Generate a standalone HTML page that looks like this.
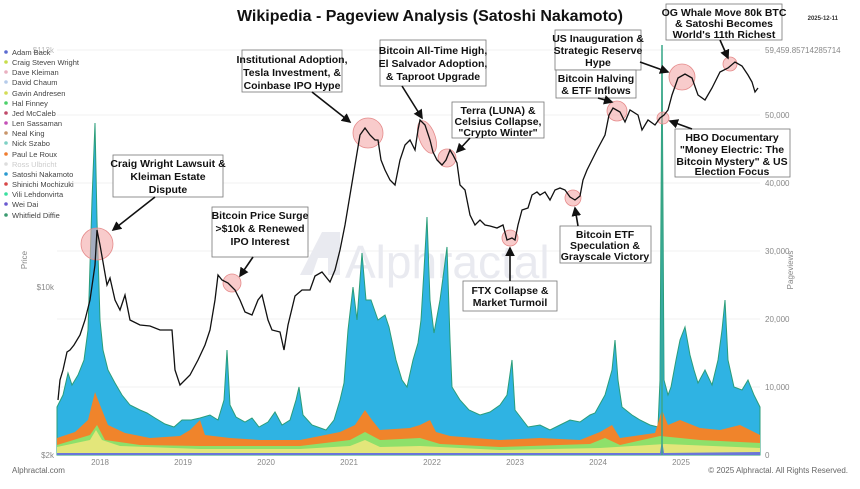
<!DOCTYPE html>
<html><head><meta charset="utf-8"><style>
body{margin:0;background:#fff;font-family:"Liberation Sans",sans-serif}
svg text{font-family:"Liberation Sans",sans-serif}
.b{font-weight:bold;font-size:10.5px;fill:#111;text-anchor:middle}
</style></head><body>
<svg width="860" height="484" viewBox="0 0 860 484" xmlns="http://www.w3.org/2000/svg">
<rect width="860" height="484" fill="#fff"/>
<text x="430" y="21" font-size="16" font-weight="bold" text-anchor="middle" fill="#111">Wikipedia - Pageview Analysis (Satoshi Nakamoto)</text>
<text x="838" y="20" font-size="6" font-weight="bold" text-anchor="end" fill="#333">2025-12-11</text>
<g stroke="#f0f0f0" stroke-width="1">
<line x1="57" y1="50" x2="760" y2="50"/><line x1="57" y1="115" x2="760" y2="115"/><line x1="57" y1="183" x2="760" y2="183"/><line x1="57" y1="251" x2="760" y2="251"/><line x1="57" y1="319" x2="760" y2="319"/><line x1="57" y1="387" x2="760" y2="387"/>
</g>
<text x="345" y="278" font-size="46" fill="#e9eaf0">Alphractal</text>
<path d="M300 275 L322 232 L340 232 L340 275 L328 275 L328 258 L318 258 L312 275 Z" fill="#e9eaf0"/>
<!-- blue area -->
<path fill="#2fb3e3" stroke="#2a9d7a" stroke-width="1" d="M57 455 L57 407 L63 395 L68 373 L72 385 L78 375 L84 360 L88 330 L92 200 L95 123 L97 220 L100 320 L103 350 L108 370 L115 383 L122 395 L130 405 L140 410 L147 413 L155 418 L165 424 L174 427 L182 420 L191 420 L200 418 L210 415 L218 420 L224 400 L227 350 L230 405 L236 417 L245 422 L252 418 L259 427 L268 422 L275 412 L282 425 L290 420 L296 400 L299 387 L303 415 L312 425 L326 430 L334 420 L340 400 L344 383 L348 330 L353 287 L357 320 L362 253 L366 300 L371 300 L378 320 L385 315 L389 327 L396 360 L402 380 L407 387 L413 360 L418 343 L421 320 L424 270 L427 217 L430 300 L434 333 L440 300 L444 270 L447 247 L450 340 L452 387 L460 400 L469 410 L480 415 L490 412 L500 405 L507 395 L512 360 L515 410 L528 427 L540 425 L550 430 L560 425 L570 420 L580 422 L590 415 L595 413 L605 395 L612 370 L615 340 L618 380 L622 407 L632 415 L640 420 L650 425 L658 427 L660 380 L662 45 L664 380 L668 395 L671 387 L676 360 L680 340 L685 327 L690 355 L694 370 L698 383 L705 370 L712 385 L718 360 L722 330 L725 300 L728 360 L734 387 L742 390 L748 380 L754 395 L760 407 L760 455 Z"/>
<!-- orange band -->
<path fill="#f0842b" d="M57 455 L57 438 L75 432 L88 420 L95 392 L100 405 L108 425 L125 433 L150 438 L180 436 L190 430 L200 420 L205 435 L230 438 L260 440 L300 440 L340 432 L355 425 L365 410 L372 420 L380 430 L410 428 L420 425 L430 420 L436 432 L450 436 L500 440 L540 438 L580 440 L600 432 L612 425 L620 438 L655 433 L662 410 L668 425 L680 420 L700 428 L720 430 L740 425 L760 435 L760 455 Z"/>
<!-- green band -->
<path fill="#8ee06a" d="M57 455 L57 445 L90 435 L97 425 L105 440 L140 445 L200 446 L300 446 L350 440 L365 432 L380 440 L420 438 L440 444 L500 447 L590 444 L605 438 L620 445 L660 436 L680 438 L700 440 L760 443 L760 455 Z"/>
<!-- yellow band -->
<path fill="#e3e67a" d="M57 455 L57 447 L90 440 L96 430 L102 440 L120 446 L200 449 L300 449 L350 446 L365 440 L380 447 L420 446 L500 450 L600 448 L665 444 L760 448 L760 455 Z"/>
<path fill="#6a76d8" d="M57 455 L57 453 L660 453 L662 440 L664 453 L760 452 L760 455 Z"/>
<line x1="662" y1="45" x2="662" y2="455" stroke="#3aa88a" stroke-width="1.5"/>
<!-- circles -->
<g fill="#f4a9a9" fill-opacity="0.6" stroke="#e58a8a" stroke-width="0.8">
<circle cx="97" cy="244" r="16"/><circle cx="232" cy="283" r="9"/><circle cx="368" cy="133" r="15"/>
<ellipse cx="427" cy="137" rx="8" ry="17" transform="rotate(-20 427 137)"/>
<circle cx="447" cy="158" r="9"/><circle cx="510" cy="238" r="8"/><circle cx="573" cy="198" r="8"/>
<circle cx="617" cy="111" r="10"/><circle cx="663" cy="118" r="6"/><circle cx="682" cy="77" r="13"/><circle cx="730" cy="64" r="7"/>
</g>
<!-- price -->
<polyline fill="none" stroke="#111" stroke-width="1.3" points="58,400 60,380 63,370 67,352 70,350 74,345 80,335 85,320 90,300 95,265 97,230 100,245 103,262 107,285 110,278 115,300 120,310 125,295 130,320 140,325 150,326 160,330 172,330 175,370 180,385 185,380 190,375 198,360 205,345 210,330 215,300 218,275 222,280 228,283 235,290 240,300 245,312 252,315 258,300 262,295 268,320 272,330 280,332 284,350 288,325 295,296 302,290 310,290 315,276 322,272 330,282 335,270 340,250 345,225 350,195 355,165 360,135 365,128 370,135 375,140 378,140 381,160 385,170 390,180 395,185 400,160 405,145 410,140 415,150 418,130 420,120 425,125 430,140 433,152 437,160 442,165 446,160 450,150 453,155 457,163 460,185 465,190 470,215 475,225 480,220 485,225 490,226 497,228 503,225 507,240 512,238 515,240 518,225 522,210 528,208 532,195 537,192 540,195 545,192 550,200 555,190 560,188 565,190 570,197 575,200 580,196 583,180 587,170 592,160 597,150 605,135 609,115 613,108 620,112 625,122 630,110 638,115 642,130 648,120 655,125 660,118 664,115 668,110 672,95 678,78 685,74 692,78 698,95 705,100 712,88 720,72 728,68 735,62 742,66 748,75 752,82 755,92 758,88"/>
<!-- axes labels -->
<g font-size="8" fill="#888">
<text x="54" y="290" text-anchor="end">$10k</text><text x="54" y="458" text-anchor="end">$2k</text>
<text x="54" y="53" text-anchor="end" fill="#bbb">$112k</text>
<text x="765" y="53">59,459.85714285714</text><text x="765" y="118">50,000</text><text x="765" y="186">40,000</text><text x="765" y="254">30,000</text><text x="765" y="322">20,000</text><text x="765" y="390">10,000</text><text x="765" y="458">0</text>
<text x="100" y="465" text-anchor="middle">2018</text><text x="183" y="465" text-anchor="middle">2019</text><text x="266" y="465" text-anchor="middle">2020</text><text x="349" y="465" text-anchor="middle">2021</text><text x="432" y="465" text-anchor="middle">2022</text><text x="515" y="465" text-anchor="middle">2023</text><text x="598" y="465" text-anchor="middle">2024</text><text x="681" y="465" text-anchor="middle">2025</text>
<text transform="translate(27 260) rotate(-90)" text-anchor="middle">Price</text>
<text transform="translate(793 270) rotate(-90)" text-anchor="middle">Pageviews</text>
<text x="12" y="473" fill="#666">Alphractal.com</text>
<text x="848" y="473" text-anchor="end" fill="#666">© 2025 Alphractal. All Rights Reserved.</text>
</g>
<!-- legend -->
<g font-size="7.5" fill="#444">
<circle cx="6" cy="52" r="1.8" fill="#5b6bd0"/><text x="12" y="55">Adam Back</text>
<circle cx="6" cy="62" r="1.8" fill="#c7dd4a"/><text x="12" y="65">Craig Steven Wright</text>
<circle cx="6" cy="72" r="1.8" fill="#e9b0c0"/><text x="12" y="75">Dave Kleiman</text>
<circle cx="6" cy="82" r="1.8" fill="#b5cbea"/><text x="12" y="85">David Chaum</text>
<circle cx="6" cy="93" r="1.8" fill="#d4dc56"/><text x="12" y="96">Gavin Andresen</text>
<circle cx="6" cy="103" r="1.8" fill="#4cd06a"/><text x="12" y="106">Hal Finney</text>
<circle cx="6" cy="113" r="1.8" fill="#c04a6a"/><text x="12" y="116">Jed McCaleb</text>
<circle cx="6" cy="123" r="1.8" fill="#c450b8"/><text x="12" y="126">Len Sassaman</text>
<circle cx="6" cy="133" r="1.8" fill="#c8956a"/><text x="12" y="136">Neal King</text>
<circle cx="6" cy="143" r="1.8" fill="#7ed0c4"/><text x="12" y="146">Nick Szabo</text>
<circle cx="6" cy="154" r="1.8" fill="#f07d30"/><text x="12" y="157">Paul Le Roux</text>
<circle cx="6" cy="164" r="1.8" fill="#ddd"/><text x="12" y="167" fill="#ccc">Ross Ulbricht</text>
<circle cx="6" cy="174" r="1.8" fill="#2a9ad0"/><text x="12" y="177">Satoshi Nakamoto</text>
<circle cx="6" cy="184" r="1.8" fill="#d84848"/><text x="12" y="187">Shinichi Mochizuki</text>
<circle cx="6" cy="194" r="1.8" fill="#3ae0a0"/><text x="12" y="197">Vili Lehdonvirta</text>
<circle cx="6" cy="204" r="1.8" fill="#6a5ad0"/><text x="12" y="207">Wei Dai</text>
<circle cx="6" cy="215" r="1.8" fill="#3a9a70"/><text x="12" y="218">Whitfield Diffie</text>
</g>
<!-- annotation boxes -->
<g fill="#fff" stroke="#777" stroke-width="0.8">
<rect x="113" y="155" width="110" height="42"/><rect x="212" y="207" width="96" height="50"/>
<rect x="242" y="50" width="100" height="42"/><rect x="380" y="40" width="106" height="46"/>
<rect x="452" y="102" width="92" height="36"/><rect x="555" y="30" width="86" height="40"/>
<rect x="556" y="70" width="80" height="28"/><rect x="666" y="4" width="116" height="36"/>
<rect x="675" y="129" width="115" height="48"/><rect x="560" y="226" width="91" height="37"/>
<rect x="463" y="281" width="94" height="30"/>
</g>
<g class="b">
<text class="b" x="168" y="167">Craig Wright Lawsuit &amp;</text><text class="b" x="168" y="180">Kleiman Estate</text><text class="b" x="168" y="193">Dispute</text>
<text class="b" x="260" y="219">Bitcoin Price Surge</text><text class="b" x="260" y="232">&gt;$10k &amp; Renewed</text><text class="b" x="260" y="245">IPO Interest</text>
<text class="b" x="292" y="63">Institutional Adoption,</text><text class="b" x="292" y="76">Tesla Investment, &amp;</text><text class="b" x="292" y="89">Coinbase IPO Hype</text>
<text class="b" x="433" y="54">Bitcoin All-Time High,</text><text class="b" x="433" y="67">El Salvador Adoption,</text><text class="b" x="433" y="80">&amp; Taproot Upgrade</text>
<text class="b" x="498" y="114">Terra (LUNA) &amp;</text><text class="b" x="498" y="125">Celsius Collapse,</text><text class="b" x="498" y="136">"Crypto Winter"</text>
<text class="b" x="598" y="42">US Inauguration &amp;</text><text class="b" x="598" y="54">Strategic Reserve</text><text class="b" x="598" y="66">Hype</text>
<text class="b" x="596" y="82">Bitcoin Halving</text><text class="b" x="596" y="94">&amp; ETF Inflows</text>
<text class="b" x="724" y="16">OG Whale Move 80k BTC</text><text class="b" x="724" y="27">&amp; Satoshi Becomes</text><text class="b" x="724" y="38">World's 11th Richest</text>
<text class="b" x="732" y="141">HBO Documentary</text><text class="b" x="732" y="153">"Money Electric: The</text><text class="b" x="732" y="165">Bitcoin Mystery" &amp; US</text><text class="b" x="732" y="175">Election Focus</text>
<text class="b" x="605" y="238">Bitcoin ETF</text><text class="b" x="605" y="249">Speculation &amp;</text><text class="b" x="605" y="260">Grayscale Victory</text>
<text class="b" x="510" y="294">FTX Collapse &amp;</text><text class="b" x="510" y="306">Market Turmoil</text>
</g>
<!-- arrows -->
<defs><marker id="a" markerWidth="6" markerHeight="6" refX="5" refY="3" orient="auto"><path d="M0 0 L6 3 L0 6 Z" fill="#111"/></marker></defs>
<g stroke="#111" stroke-width="1.6" marker-end="url(#a)">
<line x1="155" y1="197" x2="113" y2="230"/><line x1="253" y1="257" x2="240" y2="276"/>
<line x1="312" y1="92" x2="350" y2="122"/><line x1="402" y1="86" x2="422" y2="118"/>
<line x1="470" y1="138" x2="457" y2="152"/><line x1="598" y1="98" x2="612" y2="102"/>
<line x1="640" y1="62" x2="668" y2="72"/>
<line x1="720" y1="40" x2="728" y2="58"/><line x1="692" y1="129" x2="670" y2="121"/>
<line x1="578" y1="226" x2="575" y2="208"/><line x1="510" y1="281" x2="510" y2="248"/>
</g>
</svg>
</body></html>
